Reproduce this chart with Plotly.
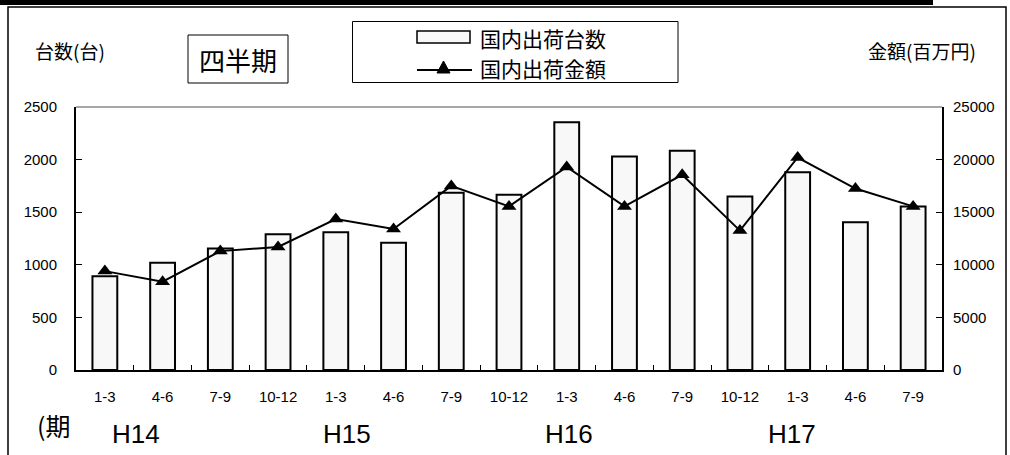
import plotly.graph_objects as go

# ---- data ----
periods = ["1-3", "4-6", "7-9", "10-12", "1-3", "4-6", "7-9", "10-12",
           "1-3", "4-6", "7-9", "10-12", "1-3", "4-6", "7-9"]
years = ["H14", "H15", "H16", "H17"]
year_pos = [0.54, 4.2, 8.04, 11.9]
units = [890, 1020, 1155, 1290, 1310, 1210, 1685, 1665, 2355, 2030, 2085, 1650, 1880, 1405, 1555]
amount = [9400, 8400, 11300, 11700, 14350, 13400, 17500, 15550, 19300, 15550, 18550, 13250, 20200, 17250, 15550]
left_ticks = [0, 500, 1000, 1500, 2000, 2500]
right_ticks = [0, 5000, 10000, 15000, 20000, 25000]
series_names = ["国内出荷台数", "国内出荷金額"]

W, H = 1010, 455
L, R, T, B = 76, 942, 107, 370
CJK = "Noto Sans CJK JP"
LAT = "Liberation Sans, Arial, sans-serif"


def px(x):
    return (x - L) / (R - L)


def py(y):
    return (B - y) / (B - T)


idx = list(range(len(periods)))

fig = go.Figure()
fig.add_bar(
    x=idx, y=units, name=series_names[0], yaxis="y", width=0.43,
    marker=dict(color="#f8f8f8", line=dict(color="black", width=2)),
)
fig.add_scatter(
    x=idx, y=amount, name=series_names[1], yaxis="y2", mode="lines+markers",
    line=dict(color="black", width=2),
    marker=dict(symbol="triangle-up", size=13, color="black"),
)

axis_common = dict(showgrid=False, zeroline=False, showline=True, linecolor="black",
                   linewidth=2, ticks="inside", ticklen=6, tickcolor="black", tickwidth=1,
                   tickfont=dict(family=LAT, size=15, color="black"))

fig.update_layout(
    width=W, height=H, autosize=False,
    margin=dict(l=L, r=W - R, t=T, b=H - B),
    paper_bgcolor="white", plot_bgcolor="white",
    showlegend=False,
    bargap=0.57,
    xaxis=dict(
        range=[-0.5, len(periods) - 0.5], tickmode="array", tickvals=idx, ticktext=periods,
        ticks="", showgrid=False, zeroline=False, showline=True, linecolor="black", linewidth=2,
        tickfont=dict(family=LAT, size=15, color="black"), ticklabelstandoff=12,
        minor=dict(tickmode="array", tickvals=[i + 0.5 for i in idx[:-1]], ticks="inside",
                   ticklen=5, tickcolor="black", tickwidth=1, showgrid=False),
    ),
    yaxis=dict(range=[0, 2500], tickmode="array", tickvals=left_ticks,
               ticktext=[str(v) for v in left_ticks], ticklabelstandoff=14, **axis_common),
    yaxis2=dict(range=[0, 25000], tickmode="array", tickvals=right_ticks,
                ticktext=[str(v) for v in right_ticks], overlaying="y",
                side="right", ticklabelstandoff=6, **axis_common),
)

shapes = []
# thick black bar at very top
shapes.append(dict(type="rect", xref="paper", yref="paper", x0=px(0), x1=px(933), y0=py(0), y1=py(5),
                   fillcolor="black", line=dict(width=0)))
# outer frame
shapes.append(dict(type="path", xref="paper", yref="paper",
                   path=f"M {px(8)},{py(456)} L {px(8)},{py(7)} L {px(1006)},{py(7)} L {px(1006)},{py(456)}",
                   line=dict(color="black", width=1.5)))
# grey top border of plot area
shapes.append(dict(type="line", xref="paper", yref="paper", x0=0, x1=1, y0=1, y1=1,
                   line=dict(color="#8a8a8a", width=1.5)))
# legend box
shapes.append(dict(type="rect", xref="paper", yref="paper", x0=px(352.5), x1=px(678), y0=py(82.5), y1=py(21.5),
                   line=dict(color="black", width=1), fillcolor="white"))
# legend bar symbol
shapes.append(dict(type="rect", xref="paper", yref="paper", x0=px(417), x1=px(470), y0=py(43), y1=py(31),
                   line=dict(color="black", width=1.5), fillcolor="#f8f8f8"))
# legend line symbol
shapes.append(dict(type="line", xref="paper", yref="paper", x0=px(417), x1=px(472), y0=py(70), y1=py(70),
                   line=dict(color="black", width=2)))
shapes.append(dict(type="path", xref="paper", yref="paper",
                   path=f"M {px(437)},{py(73)} L {px(450)},{py(73)} L {px(443.5)},{py(61)} Z",
                   fillcolor="black", line=dict(color="black", width=1)))
# 四半期 box
shapes.append(dict(type="rect", xref="paper", yref="paper", x0=px(188), x1=px(288), y0=py(83), y1=py(35),
                   line=dict(color="black", width=1)))
fig.update_layout(shapes=shapes)

ann = []


def text(x, y, s, size, family=CJK, xanchor="center", pad=1):
    ann.append(dict(xref="paper", yref="paper", x=px(x), y=py(y), text=s, showarrow=False,
                    xanchor=xanchor, yanchor="middle", borderpad=pad,
                    font=dict(family=family, size=size, color="black")))


text(70, 50, "台数(台)", 19)
text(922, 50, "金額(百万円)", 19)
text(238, 59, "四半期", 26)
text(479, 38, series_names[0], 21, xanchor="left", pad=0)
text(479, 68, series_names[1], 21, xanchor="left", pad=0)
text(53, 425, "(期", 25)

for yr, pos in zip(years, year_pos):
    ann.append(dict(xref="x", yref="paper", x=pos, y=py(434), text=yr, showarrow=False,
                    xanchor="center", yanchor="middle",
                    font=dict(family=LAT, size=26, color="black")))

fig.update_layout(annotations=ann)
fig.write_html("out.html", config={"displayModeBar": False},
               post_script="document.body.style.margin='0';")
